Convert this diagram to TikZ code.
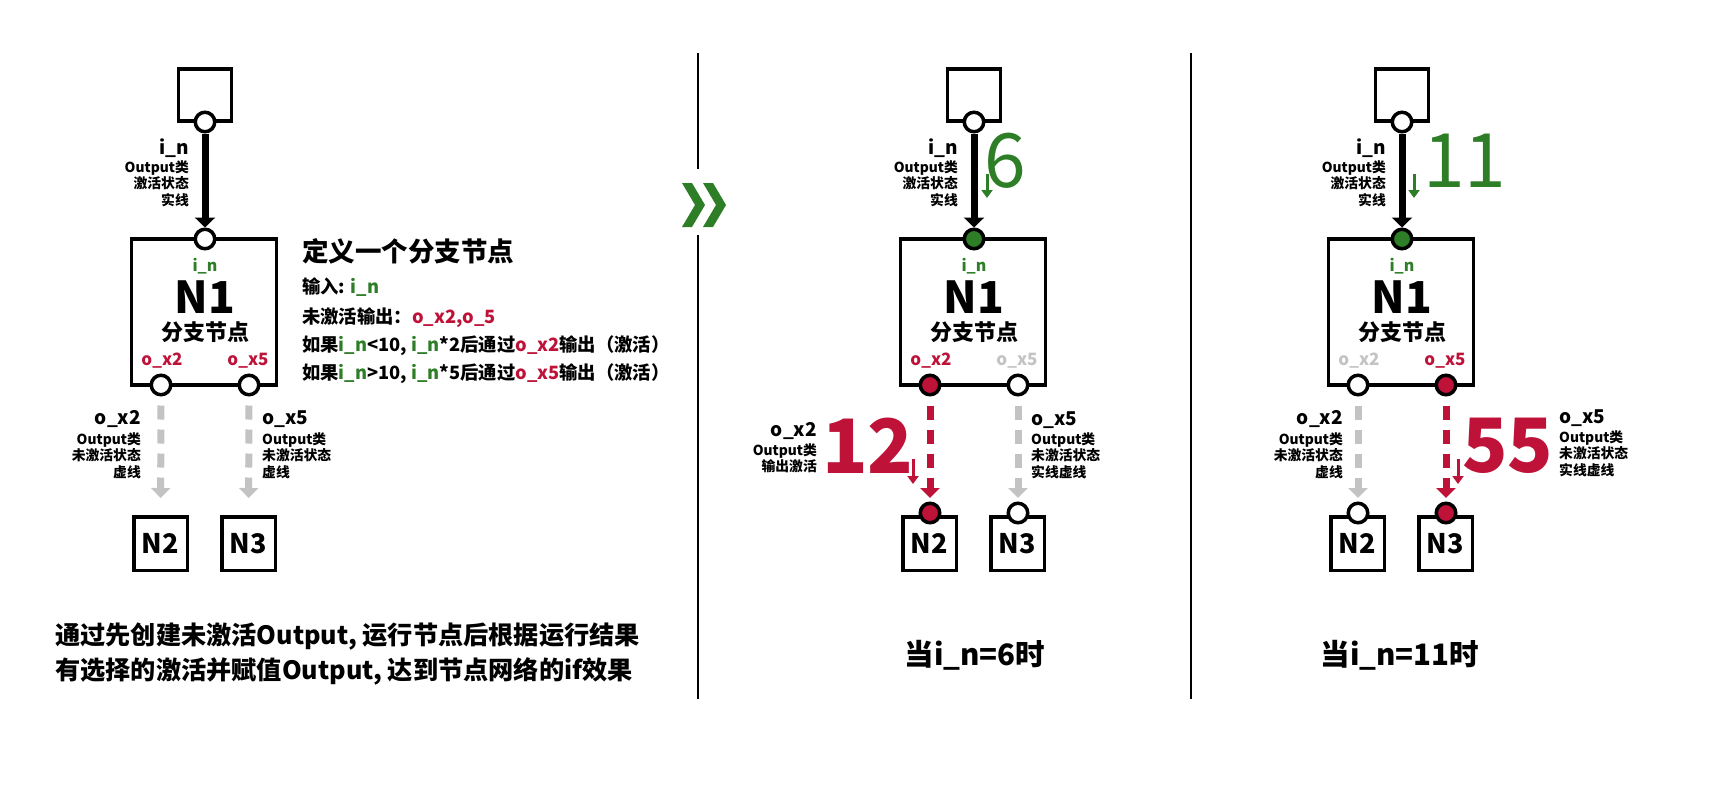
\documentclass[tikz,border=0pt]{standalone}
\usepackage{fontspec}
\setmainfont{Noto Sans CJK SC}
\usetikzlibrary{arrows.meta}
\definecolor{gr}{HTML}{2E7D27}
\definecolor{rd}{HTML}{BE1238}
\definecolor{gy}{HTML}{C3C3C3}
\tikzset{
  box/.style={draw, line width=3.5pt, inner sep=0pt, fill=white},
  port/.style={circle, draw, line width=3.5pt, minimum size=19.5pt, inner sep=0pt, fill=white},
  flow/.style={line width=7pt, -{Triangle[width=20pt,length=10pt]}},
  dflow/.style={line width=7pt, dash pattern=on 14pt off 10pt, -{Triangle[width=19pt,length=10pt]}},
  vflow/.style={line width=3pt, -{Triangle[width=11pt,length=8pt]}},
  lbl/.style={inner sep=0pt, font=\bfseries\fontsize{13.8}{16.5}\selectfont},
  var/.style={inner sep=0pt, font=\bfseries\fontsize{19}{20}\selectfont},
  nlab/.style={font=\bfseries\fontsize{27}{30}\selectfont},
  dtitle/.style={inner sep=0pt, font=\bfseries\fontsize{26.5}{30}\selectfont},
  dtext/.style={inner sep=0pt, font=\bfseries\fontsize{18.3}{22}\selectfont},
  bignum/.style={inner sep=0pt, font=\fontsize{75}{80}\selectfont},
  bigbnum/.style={inner sep=0pt, font=\bfseries\fontsize{75}{80}\selectfont},
  caption/.style={inner sep=0pt, font=\bfseries\fontsize{25.2}{28}\selectfont},
}
% #1 prefix, #2 in fill, #3 x2 fill, #4 x5 fill, #5 x2 label colour, #6 x5 label colour
\newcommand\drawpanel[6]{%
  \node[box, minimum width=53pt, minimum height=52pt] (#1-src) at (205,95) {};
  \node[port] (#1-out) at (205,122) {};
  \node[box, minimum width=145pt, minimum height=146pt] (#1-n1) at (204,312) {};
  \node[port, fill=#2] (#1-in) at (205,239) {};
  \node[port, fill=#3] (#1-x2) at (161,385) {};
  \node[port, fill=#4] (#1-x5) at (249,385) {};
  \node[box, nlab, minimum size=53.5pt] (#1-n2) at (160.5,543.5) {N2};
  \node[box, nlab, minimum size=53.5pt] (#1-n3) at (248.5,543.5) {N3};
  \draw[flow] (#1-out) -- (#1-in);
  \node[inner sep=0pt, anchor=base, text=gr, font=\bfseries\fontsize{16}{18}\selectfont] (#1-inlab) at (205,271) {i\_n};
  \node[inner sep=0pt, anchor=base, font=\bfseries\fontsize{44}{46}\selectfont] (#1-name) at (205,313) {N1};
  \node[inner sep=0pt, anchor=base, font=\bfseries\fontsize{22}{24}\selectfont] (#1-kind) at (205,340.4) {分支节点};
  \node[inner sep=0pt, anchor=base, text=#5, font=\bfseries\fontsize{17}{18}\selectfont] (#1-x2lab) at (162,365) {o\_x2};
  \node[inner sep=0pt, anchor=base, text=#6, font=\bfseries\fontsize{17}{18}\selectfont] (#1-x5lab) at (248,365) {o\_x5};
  \node[var, anchor=base east] (#1-inv) at (189,154.4) {i\_n};
  \node[lbl, anchor=north east, align=right] (#1-indesc) at (189,160.3) {Output类\\激活状态\\实线};
}
\begin{document}
\begin{tikzpicture}[x=1pt, y=-1pt]
\useasboundingbox (0,0) rectangle (1734,800);

% dividers and chevrons
\draw[line width=1.5pt] (698,53) -- (698,169);
\draw[line width=1.5pt] (698,235) -- (698,699);
\draw[line width=1.5pt] (1191,53) -- (1191,699);
\fill[gr] (682,183) -- (692,183) -- (705,205) -- (692,227) -- (682,227) -- (695,205) -- cycle;
\fill[gr] (703,183) -- (713,183) -- (726,205) -- (713,227) -- (703,227) -- (716,205) -- cycle;

% ---------- panel 1 ----------
\drawpanel{a}{white}{white}{white}{rd}{rd}
\draw[dflow, gy, shorten <=9pt, shorten >=17pt] (a-x2) -- (a-n2);
\draw[dflow, gy, shorten <=9pt, shorten >=17pt] (a-x5) -- (a-n3);
\node[var, anchor=base east] (a-x2v) at (141,424.7) {o\_x2};
\node[lbl, anchor=north east, align=right] (a-x2d) at (141,432.3) {Output类\\未激活状态\\虚线};
\node[var, anchor=base west] (a-x5v) at (262,424.7) {o\_x5};
\node[lbl, anchor=north west, align=left] (a-x5d) at (262,432.3) {Output类\\未激活状态\\虚线};

\node[dtitle, anchor=base west] (d0) at (302,261.5) {定义一个分支节点};
\node[dtext, anchor=base west] (d1) at (302,293.8) {输入: \textcolor{gr}{i\_n}};
\node[dtext, anchor=base west] (d2) at (302,323.8) {未激活输出：\textcolor{rd}{o\_x2,o\_5}};
\node[dtext, anchor=base west] (d3) at (302,351.8) {如果\textcolor{gr}{i\_n}<10, \textcolor{gr}{i\_n}*2后通过\textcolor{rd}{o\_x2}输出（激活）};
\node[dtext, anchor=base west] (d4) at (302,379.8) {如果\textcolor{gr}{i\_n}>10, \textcolor{gr}{i\_n}*5后通过\textcolor{rd}{o\_x5}输出（激活）};

\node[caption, anchor=base west] (s1) at (55,644) {通过先创建未激活Output, 运行节点后根据运行结果};
\node[caption, anchor=base west] (s2) at (55,679) {有选择的激活并赋值Output, 达到节点网络的if效果};

% ---------- panel 2 ----------
\begin{scope}[xshift=769pt]
\drawpanel{b}{gr}{rd}{white}{rd}{gy}
\node[port, fill=rd] (b-p2) at (161,513) {};
\node[port] (b-p3) at (249,513) {};
\draw[dflow, rd, shorten <=9pt, shorten >=3.5pt] (b-x2) -- (b-p2);
\draw[dflow, gy, shorten <=9pt, shorten >=3.5pt] (b-x5) -- (b-p3);
\end{scope}
\node[bignum, anchor=base west, text=gr] (b-val) at (984,187) {6};
\coordinate (b-va) at (987,174);
\coordinate (b-vb) at (987,198);
\draw[vflow, gr] (b-va) -- (b-vb);
\node[bigbnum, anchor=base west, text=rd] (b-out) at (822,473) {12};
\coordinate (b-oa) at (913,459);
\coordinate (b-ob) at (913,484);
\draw[vflow, rd] (b-oa) -- (b-ob);
\node[var, anchor=base east] (b-x2v) at (817,436.7) {o\_x2};
\node[lbl, anchor=north east, align=right] (b-x2d) at (817,443.3) {Output类\\输出激活};
\node[var, anchor=base west] (b-x5v) at (1031,425.7) {o\_x5};
\node[lbl, anchor=north west, align=left] (b-x5d) at (1031,432.3) {Output类\\未激活状态\\实线虚线};
\node[caption, anchor=base, font=\bfseries\fontsize{29.5}{32}\selectfont] (b-cap) at (975,665) {当i\_n=6时};

% ---------- panel 3 ----------
\begin{scope}[xshift=1197pt]
\drawpanel{c}{gr}{white}{rd}{gy}{rd}
\node[port] (c-p2) at (161,513) {};
\node[port, fill=rd] (c-p3) at (249,513) {};
\draw[dflow, gy, shorten <=9pt, shorten >=3.5pt] (c-x2) -- (c-p2);
\draw[dflow, rd, shorten <=9pt, shorten >=3.5pt] (c-x5) -- (c-p3);
\end{scope}
\node[bignum, anchor=base west, text=gr] (c-val) at (1423,187) {11};
\coordinate (c-va) at (1414,174);
\coordinate (c-vb) at (1414,198);
\draw[vflow, gr] (c-va) -- (c-vb);
\node[bigbnum, anchor=base west, text=rd] (c-out) at (1462,472) {55};
\coordinate (c-oa) at (1458,459);
\coordinate (c-ob) at (1458,484);
\draw[vflow, rd] (c-oa) -- (c-ob);
\node[var, anchor=base east] (c-x2v) at (1343,424.7) {o\_x2};
\node[lbl, anchor=north east, align=right] (c-x2d) at (1343,432.3) {Output类\\未激活状态\\虚线};
\node[var, anchor=base west] (c-x5v) at (1559,423) {o\_x5};
\node[lbl, anchor=north west, align=left] (c-x5d) at (1559,430.3) {Output类\\未激活状态\\实线虚线};
\node[caption, anchor=base, font=\bfseries\fontsize{29.5}{32}\selectfont] (c-cap) at (1400,665) {当i\_n=11时};
\end{tikzpicture}
\end{document}
